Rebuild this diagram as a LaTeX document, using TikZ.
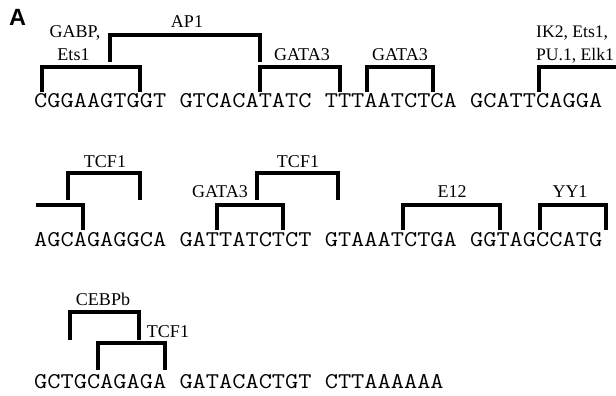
\documentclass[tikz,border=0pt]{standalone}
\usepackage{fontspec}
\setmainfont{Liberation Serif}
\newfontfamily\seqfont[FakeStretch=1.14]{Latin Modern Mono}
\newfontfamily\panelfont{Liberation Sans}
\tikzset{
  seq/.style={anchor=base west, inner sep=0pt, font=\seqfont\fontsize{22.5}{24}\selectfont},
  lab/.style={anchor=base, inner sep=0pt, font=\fontsize{18}{20}\selectfont},
  brk/.style={line width=3.6pt, line join=miter, line cap=butt}
}
\begin{document}
\begin{tikzpicture}[x=1pt,y=-1pt]
\useasboundingbox (0,0) rectangle (616,396);
\node[anchor=base west, inner sep=0pt, font=\panelfont\bfseries\fontsize{23.5}{26}\selectfont] (pA) at (9,25.5) {A};

% sequences
\node[seq] (s1) at (34,107.5) {CGGAAGTGGT GTCACATATC TTTAATCTCA GCATTCAGGA};
\node[seq] (s2) at (34,246) {AGCAGAGGCA GATTATCTCT GTAAATCTGA GGTAGCCATG};
\node[seq] (s3) at (34,388) {GCTGCAGAGA GATACACTGT CTTAAAAAA};

% row 1 brackets
\draw[brk] (42,92) |- (140,67) -- (140,92);
\draw[brk] (110,62) |- (260,35) -- (260,62);
\draw[brk] (260,92) |- (340,67) -- (340,92);
\draw[brk] (367,92) |- (433,67) -- (433,92);
\draw[brk] (539,92) |- (620,67);

% row 1 labels
\node[lab] (l1a) at (75,38) {GABP,};
\node[lab] (l1b) at (73.5,60) {Ets1};
\node[lab] (l2) at (187,28) {AP1};
\node[lab] (l3) at (302,60) {GATA3};
\node[lab] (l4) at (400,60) {GATA3};
\node[lab, anchor=base west, font=\fontsize{17.6}{19}\selectfont] (l5a) at (536,38) {IK2, Ets1,};
\node[lab, anchor=base west, font=\fontsize{17.6}{19}\selectfont] (l5b) at (536,60) {PU.1, Elk1};

% row 2 brackets
\draw[brk] (36,205) -| (83,230);
\draw[brk] (68,200) |- (140,173) -- (140,200);
\draw[brk] (217,230) |- (283,205) -- (283,230);
\draw[brk] (257,200) |- (338,173) -- (338,200);
\draw[brk] (403,230) |- (500,205) -- (500,230);
\draw[brk] (540,230) |- (606,205) -- (606,230);

% row 2 labels
\node[lab] (m1) at (105,167) {TCF1};
\node[lab] (m2) at (220,197) {GATA3};
\node[lab] (m3) at (298,167) {TCF1};
\node[lab] (m4) at (452,197) {E12};
\node[lab] (m5) at (570,197) {YY1};

% row 3 brackets
\draw[brk] (70,340) |- (139,312) -- (139,340);
\draw[brk] (98,370) |- (165,343) -- (165,370);

% row 3 labels
\node[lab] (n1) at (103,305) {CEBPb};
\node[lab] (n2) at (168,337) {TCF1};
\end{tikzpicture}
\end{document}
